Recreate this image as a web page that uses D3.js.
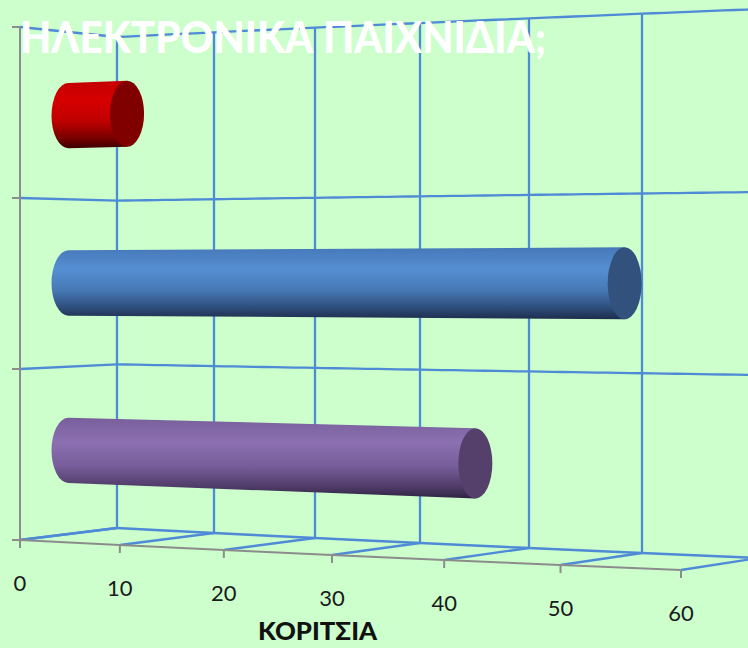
<!DOCTYPE html>
<html>
<head>
<meta charset="utf-8">
<script src="https://cdn.jsdelivr.net/npm/d3@7"></script>
<style>
  html, body { margin: 0; padding: 0; background: #CCFFCC; }
  svg { display: block; }
</style>
</head>
<body>
<div id="chart"></div>
<script>
// ---- data ----
const title = "ΗΛΕΚΤΡΟΝΙΚΑ ΠΑΙΧΝΙΔΙΑ;";
const axisTitle = "ΚΟΡΙΤΣΙΑ";
const categories = ["1", "2", "3"];          // bottom -> top (no labels shown)
const values = [39, 52, 6];                  // purple, blue, red
const bodyColors = [
  ["#785F9B", "#8C70B2", "#775E9A", "#503C69", "#2D2341"],
  ["#4678B9", "#558FD2", "#4678B4", "#2D4B78", "#1E2D4B"],
  ["#C30000", "#D70000", "#BE0000", "#780000", "#3C0000"]
];
const capColors = ["#54406A", "#32527D", "#800000"];
const tickValues = [0, 10, 20, 30, 40, 50, 60];

// ---- setup ----
const W = 748, H = 648;
const svg = d3.select("#chart").append("svg")
  .attr("width", W).attr("height", H)
  .style("background", "#CCFFCC");

const vScale = d3.scaleLinear().domain([0, 60]).range([0, 1]);
const hScale = d3.scaleBand().domain(categories).range([0, 1]).padding(0);
const dScale = d3.scaleLinear().domain([0, 1]).range([0, 1]);

// pseudo-perspective projection: v value, h height (0 floor .. 1 top), d depth (0 front .. 1 back)
function heightAt(t, d) { return (513 - 22 * d) * (1 + 0.118 * t); }
function P(v, h, d) {
  const t = vScale(v), dd = dScale(d);
  const xf = 20 + 586.8 * t + 74.2 * t * t;
  const xb = 117 + 570 * t + 72 * t * t;
  const x = xf + (xb - xf) * dd;
  const yb = 540 - 12 * dd + 30 * t;
  return [x, yb - heightAt(t, dd) * h];
}

const gridColor = "#4F8AD6";
const gridW = 2.3;
const axisColor = "#8C8C8C";
const g = svg.append("g");
const line = d3.line();

// back wall vertical gridlines
tickValues.forEach(v => {
  g.append("path").attr("d", line([P(v, 0, 1), P(v, 1, 1)]))
    .attr("stroke", gridColor).attr("stroke-width", gridW).attr("fill", "none");
});
// horizontal levels (category boundaries)
const levels = [0, ...categories.map(c => hScale(c) + hScale.bandwidth())];
levels.forEach(h => {
  const pts = d3.range(0, 60.01, 1).map(v => P(v, h, 1));
  g.append("path").attr("d", line(pts))
    .attr("stroke", gridColor).attr("stroke-width", gridW).attr("fill", "none");
  g.append("path").attr("d", line([P(0, h, 0), P(0, h, 1)]))
    .attr("stroke", gridColor).attr("stroke-width", gridW).attr("fill", "none");
});
// floor depth lines
tickValues.forEach(v => {
  g.append("path").attr("d", line([P(v, 0, 0), P(v, 0, 1)]))
    .attr("stroke", gridColor).attr("stroke-width", gridW).attr("fill", "none");
});

// value axis (front floor edge)
g.append("path").attr("d", line(d3.range(0, 60.01, 1).map(v => P(v, 0, 0))))
  .attr("stroke", axisColor).attr("stroke-width", 2).attr("fill", "none");
tickValues.forEach(v => {
  const p = P(v, 0, 0);
  g.append("line").attr("x1", p[0]).attr("y1", p[1]).attr("x2", p[0]).attr("y2", p[1] + 8)
    .attr("stroke", axisColor).attr("stroke-width", 2);
  g.append("text").attr("x", p[0]).attr("y", p[1] + 51)
    .attr("text-anchor", "middle")
    .attr("font-family", "Lato, 'Open Sans', sans-serif")
    .attr("font-size", 22).attr("fill", "#1a1a1a")
    .text(v);
});
// category axis (front-left vertical)
g.append("path").attr("d", line([P(0, 0, 0), P(0, 1, 0)]))
  .attr("stroke", axisColor).attr("stroke-width", 2).attr("fill", "none");
levels.forEach(h => {
  const p = P(0, h, 0);
  g.append("line").attr("x1", p[0] - 8).attr("y1", p[1]).attr("x2", p[0]).attr("y2", p[1])
    .attr("stroke", axisColor).attr("stroke-width", 2);
});

// ---- cylinders ----
const defs = svg.append("defs");
bodyColors.forEach((cols, i) => {
  const gr = defs.append("linearGradient").attr("id", "body" + i)
    .attr("x1", 0).attr("y1", 0).attr("x2", 0).attr("y2", 1);
  [0, 0.3, 0.6, 0.85, 1].forEach((o, j) => {
    gr.append("stop").attr("offset", o).attr("stop-color", cols[j]);
  });
});

const depthMid = 0.5, rFrac = 0.065, rx = 17;
categories.forEach((c, i) => {
  const hc = hScale(c) + hScale.bandwidth() / 2;
  const val = values[i];
  const L = P(0, hc, depthMid), R = P(val, hc, depthMid);
  const ryl = rFrac * heightAt(vScale(0), depthMid);
  const ryr = rFrac * heightAt(vScale(val), depthMid);
  const path = d3.path();
  path.moveTo(L[0], L[1] - ryl);
  path.lineTo(R[0], R[1] - ryr);
  path.lineTo(R[0], R[1] + ryr);
  path.lineTo(L[0], L[1] + ryl);
  svg.append("path")
    .attr("d", path.toString() + ` A ${rx} ${ryl} 0 0 1 ${L[0]} ${L[1] - ryl} Z`)
    .attr("fill", `url(#body${i})`);
  svg.append("ellipse")
    .attr("cx", R[0]).attr("cy", R[1]).attr("rx", rx).attr("ry", ryr)
    .attr("fill", capColors[i]);
});

// ---- titles ----
svg.append("text").attr("x", 20).attr("y", 53)
  .attr("font-family", "Lato, 'Open Sans', sans-serif")
  .attr("font-weight", "900").attr("font-size", 44)
  .attr("fill", "#FFFFFF")
  .attr("textLength", 526).attr("lengthAdjust", "spacingAndGlyphs")
  .text(title);

svg.append("text").attr("x", 258).attr("y", 640)
  .attr("font-family", "Lato, 'Open Sans', sans-serif")
  .attr("font-weight", "900").attr("font-size", 25)
  .attr("fill", "#111")
  .attr("textLength", 119).attr("lengthAdjust", "spacingAndGlyphs")
  .text(axisTitle);
</script>
</body>
</html>
